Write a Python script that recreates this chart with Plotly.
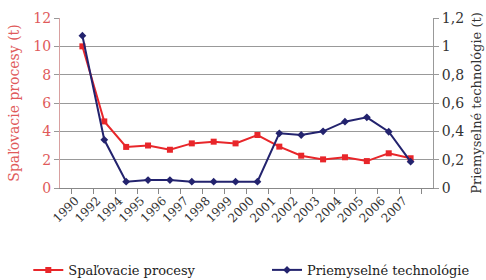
import plotly.graph_objects as go

years = ["1990", "1992", "1994", "1995", "1996", "1997", "1998", "1999",
         "2000", "2001", "2002", "2003", "2004", "2005", "2006", "2007"]
spalovacie = [10.0, 4.7, 2.9, 3.0, 2.7, 3.15, 3.27, 3.15, 3.74, 2.92, 2.28,
              2.02, 2.17, 1.9, 2.45, 2.1]
priemyselne = [1.075, 0.34, 0.045, 0.056, 0.056, 0.045, 0.045, 0.045, 0.045,
               0.386, 0.374, 0.40, 0.468, 0.499, 0.397, 0.186]

left_ticks = [0, 2, 4, 6, 8, 10, 12]
right_ticks = [0, 0.2, 0.4, 0.6, 0.8, 1.0, 1.2]
right_labels = ["0", "0,2", "0,4", "0,6", "0,8", "1", "1,2"]

RED = "#e8262a"
BLUE = "#23236e"
FONT = "DejaVu Serif"

fig = go.Figure()
fig.add_trace(go.Scatter(x=years, y=spalovacie, name="Spaľovacie procesy",
                         mode="lines+markers", line=dict(color=RED, width=2),
                         marker=dict(symbol="square", size=6, color=RED),
                         yaxis="y", legend="legend"))
fig.add_trace(go.Scatter(x=years, y=priemyselne, name="Priemyselné technológie",
                         mode="lines+markers", line=dict(color=BLUE, width=2),
                         marker=dict(symbol="diamond", size=6, color=BLUE),
                         yaxis="y2", legend="legend2"))

fig.update_layout(
    width=486, height=280,
    margin=dict(l=60, r=53, t=18, b=92, autoexpand=False),
    paper_bgcolor="white", plot_bgcolor="white",
    font=dict(family=FONT, size=13, color="#333333"),
    showlegend=True,
    legend=dict(orientation="h", x=-0.085, y=-0.482, xanchor="left", yanchor="middle",
                font=dict(family=FONT, size=13, color="#222222"),
                bgcolor="rgba(0,0,0,0)"),
    legend2=dict(orientation="h", x=0.555, y=-0.482, xanchor="left", yanchor="middle",
                 font=dict(family=FONT, size=13, color="#222222"),
                 bgcolor="rgba(0,0,0,0)"),
    xaxis=dict(type="category", tickangle=-45, showgrid=False,
               showline=True, linecolor="#888888", linewidth=1,
               ticks="outside", ticklen=5, tickcolor="#888888",
               tickson="boundaries", automargin=False, ticklabelshift=-7,
               tickfont=dict(family=FONT, size=12, color="#333333")),
    yaxis=dict(range=[0, 12], tickvals=left_ticks, showgrid=True,
               gridcolor="#999999", gridwidth=1,
               showline=True, linecolor="#d8a0a0", linewidth=1,
               ticks="outside", ticklen=5, tickcolor="#999999",
               automargin=False,
               tickfont=dict(family=FONT, size=14, color="#e05a5a"),
               title=dict(text="Spaľovacie procesy (t)", standoff=10,
                          font=dict(family=FONT, size=14, color="#e05a5a")),
               zeroline=False),
    yaxis2=dict(range=[0, 1.2], tickvals=right_ticks, ticktext=right_labels,
                overlaying="y", side="right", showgrid=False,
                showline=True, linecolor="#999999", linewidth=1,
                ticks="outside", ticklen=5, tickcolor="#999999",
                automargin=False,
                tickfont=dict(family=FONT, size=14, color="#333333"),
                title=dict(text="Priemyselné technológie (t)", standoff=8,
                           font=dict(family=FONT, size=13, color="#333333")),
                zeroline=False),
)

fig.write_html("out.html", config={"displayModeBar": False},
               post_script="document.body.style.margin='0';")
